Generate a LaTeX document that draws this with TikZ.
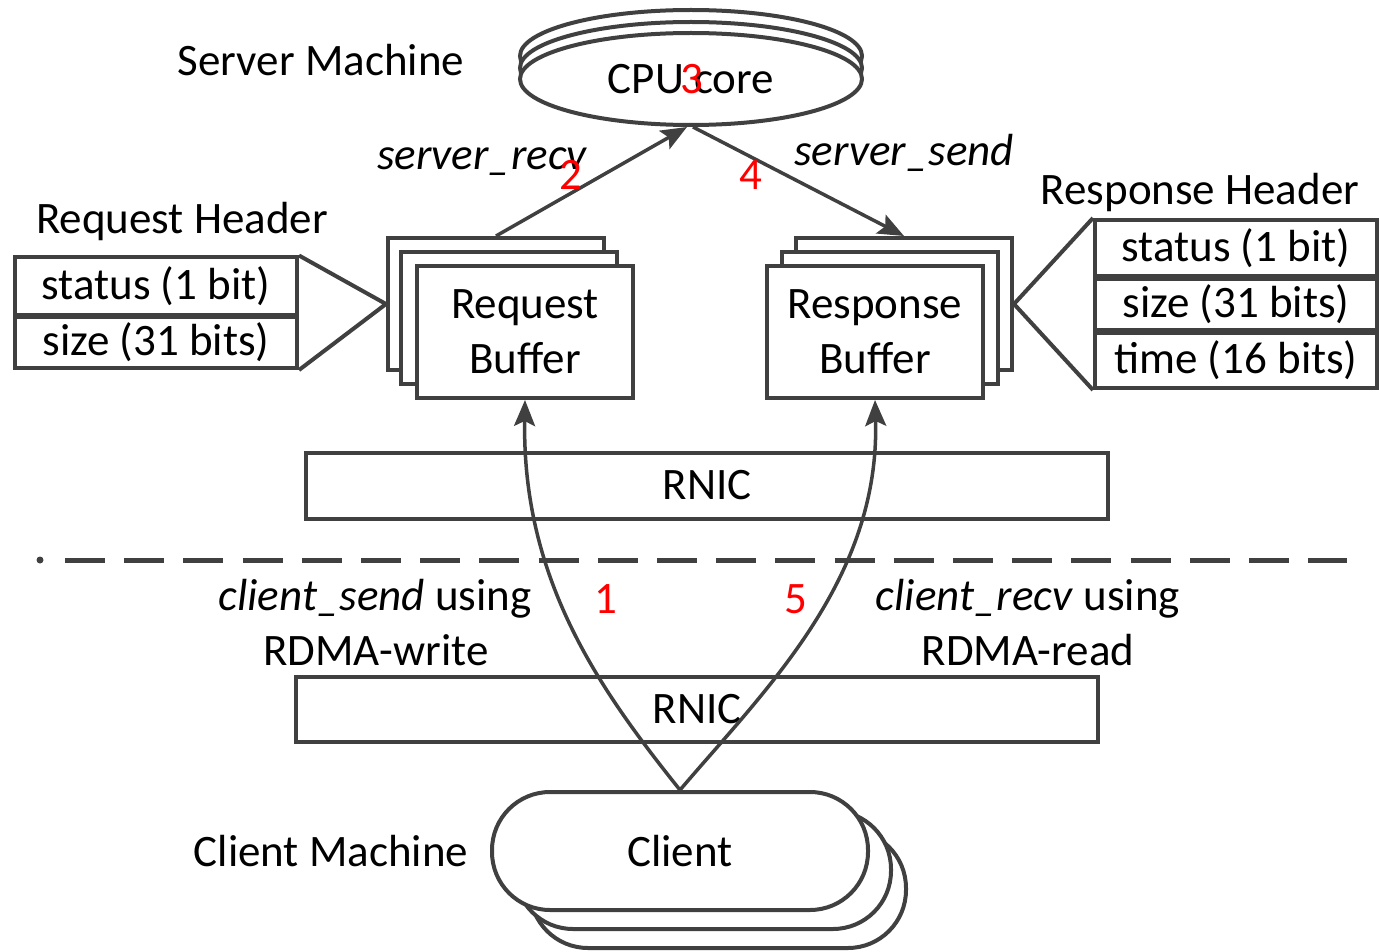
\documentclass[tikz,border=0pt]{standalone}
\usepackage{fontspec}
\setmainfont{Carlito}
\usetikzlibrary{shapes.geometric,arrows.meta}
\definecolor{dk}{RGB}{64,64,64}
\newcommand\myfs{\fontsize{45}{55}\selectfont}
\tikzset{
  ln/.style={draw=dk, line width=4pt},
  box/.style={ln, rectangle, fill=white, inner sep=0pt, font=\myfs, align=center},
  bufbox/.style={box, minimum width=216pt, minimum height=132pt},
  hdrbox/.style={box, minimum width=282pt},
  rnicbox/.style={box, minimum width=802pt, minimum height=66pt},
  cpuell/.style={ln, ellipse, fill=white, inner sep=0pt, minimum width=342pt, minimum height=92pt, font=\myfs},
  clientbox/.style={ln, rectangle, rounded corners=58pt, fill=white, inner sep=0pt, minimum width=376pt, minimum height=118pt, font=\myfs},
  txt/.style={inner sep=0pt, font=\myfs, anchor=base},
  num/.style={txt, text=red},
  arr/.style={ln, line width=3.5pt, -{Stealth[length=26pt,width=21pt,inset=5pt]}},
}
\begin{document}
\begin{tikzpicture}[x=1pt,y=-1pt]
\useasboundingbox (0,0) rectangle (1379,952);

% labels
\node[txt] (srvlbl) at (321,76) {Server Machine};
\node[txt] (reqhlbl) at (182,234) {Request Header};
\node[txt] (resphlbl) at (1200,205) {Response Header};
\node[txt] (clilbl) at (331,866) {Client Machine};

% CPU core stack
\node[cpuell] (cpu3) at (691,56) {};
\node[cpuell] (cpu2) at (691,68) {};
\node[cpuell] (cpu1) at (691,79) {CPU core};
\node[num] (n3) at (692,94) {3};

% Request buffer stack
\node[bufbox] (reqb) at (496,304) {};
\node[bufbox] (reqm) at (509,318) {};
\node[bufbox] (reqf) at (525,332) {Request\\Buffer};

% Response buffer stack
\node[bufbox] (respb) at (904,304) {};
\node[bufbox] (respm) at (890,318) {};
\node[bufbox] (respf) at (875,332) {Response\\Buffer};

% Request header boxes
\node[hdrbox, minimum height=57pt] (rq1) at (156,286) {status (1 bit)};
\node[hdrbox, minimum height=51pt] (rq2) at (156,342.5) {size (31 bits)};
\draw[ln] (rq1.north east) -- (reqb.west) -- (rq2.south east);

% Response header boxes
\node[hdrbox, minimum height=56pt] (rs1) at (1236,248) {status (1 bit)};
\node[hdrbox, minimum height=51pt] (rs2) at (1236,304.5) {size (31 bits)};
\node[hdrbox, minimum height=55pt] (rs3) at (1236,360.5) {time (16 bits)};
\draw[ln] (rs1.north west) -- (respb.east) -- (rs3.south west);

% server arrows
\coordinate (cpubot) at (cpu1.south);
\draw[arr] (reqb.north) -- ([xshift=-4pt]cpubot);
\draw[arr] ([xshift=2pt]cpubot) -- (respb.north);
\node[txt, font=\myfs\itshape] (srecv) at (482,170) {server\_recv};
\node[num] (n2) at (571,190) {2};
\node[txt, font=\myfs\itshape] (ssend) at (904,166) {server\_send};
\node[num] (n4) at (751,190) {4};

% RNICs
\node[rnicbox] (rnics) at (707,485.5) {RNIC};
\node[rnicbox, minimum height=65pt] (rnicc) at (697,709.5) {RNIC};

% dashed separator
\fill[dk] (40,560) circle (3.5pt);
\draw[dk, line width=5pt, dash pattern=on 40pt off 19.2pt] (65,560) -- (1347,560);

% client stack
\node[clientbox] (cli3) at (718,889) {};
\node[clientbox] (cli2) at (703,870) {};
\node[clientbox] (cli1) at (680,851) {Client};

% client arrows
\draw[arr] (cli1.north) .. controls (600,690) and (522,580) .. (reqf.south);
\draw[arr] (cli1.north) .. controls (765,690) and (880,580) .. (respf.south);

% client labels
\node[txt] (csend) at (375,610) {\textit{client\_send} using};
\node[txt] (rdmaw) at (376,665) {RDMA-write};
\node[num] (n1) at (606,613) {1};
\node[num] (n5) at (796,613) {5};
\node[txt] (crecv) at (1028,610) {\textit{client\_recv} using};
\node[txt] (rdmar) at (1028,665) {RDMA-read};
\end{tikzpicture}
\end{document}
